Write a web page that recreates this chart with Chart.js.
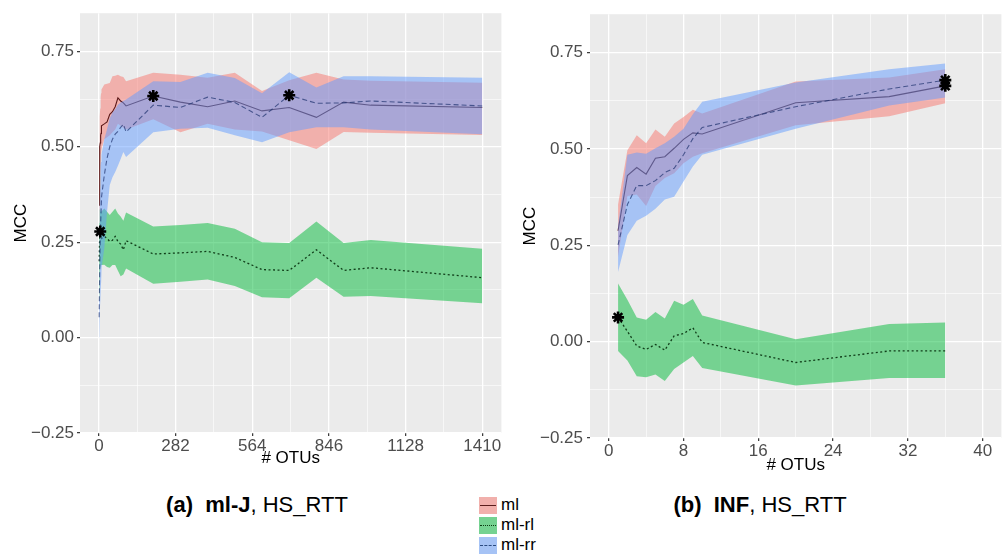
<!DOCTYPE html>
<html>
<head>
<meta charset="utf-8">
<script src="https://cdn.jsdelivr.net/npm/chart.js@4.4.1/dist/chart.umd.min.js"></script>
<style>
html, body { margin: 0; padding: 0; background: #fff; width: 1002px; height: 556px; overflow: hidden; }
body { position: relative; font-family: 'Liberation Sans', Arial, sans-serif; }
#wrapA { position: absolute; left: 0; top: 0; }
#wrapB { position: absolute; left: 515px; top: 0; }
.caption { position: absolute; top: 492px; font-size: 22px; color: #000; white-space: nowrap; transform: translateX(-50%); }
#legend { position: absolute; left: 479px; top: 495px; font-size: 17px; color: #000; }
.item { height: 20px; display: flex; align-items: center; }
.key { width: 18px; height: 17px; position: relative; margin-right: 4px; }
.key span { position: absolute; left: 1px; right: 1px; top: 8px; height: 0; border-top-width: 1.5px; }
</style>
</head>
<body>
<div id="wrapA"><canvas id="chartA" width="510" height="480"></canvas></div>
<div id="wrapB"><canvas id="chartB" width="495" height="480"></canvas></div>
<div class="caption" style="left:257px"><b>(a)</b>&nbsp; <b>ml-J</b>, HS_RTT</div>
<div class="caption" style="left:760px"><b>(b)</b>&nbsp; <b>INF</b>, HS_RTT</div>
<div id="legend">
  <div class="item"><div class="key" style="background:#F1B0AC"><span style="border-top-style:solid;border-top-color:#5a1c1c"></span></div>ml</div>
  <div class="item"><div class="key" style="background:#75D291"><span style="border-top-style:dotted;border-top-color:#0d3a12"></span></div>ml-rl</div>
  <div class="item"><div class="key" style="background:#A6C3F5"><span style="border-top-style:dashed;border-top-color:#2a4a80"></span></div>ml-rr</div>
</div>
<script>
// ---- panel (a): ml-J, HS_RTT ----
const xLeft = [1, 2, 3, 4, 5, 6, 7, 8, 9, 10, 20, 30, 40, 50, 60, 70, 80, 90, 100, 200, 300, 400, 500, 600, 700, 800, 900, 1000, 1410];
const mlLeft   = [0.347, 0.42, 0.47, 0.50, 0.51, 0.52, 0.53, 0.535, 0.545, 0.555, 0.56, 0.565, 0.585, 0.592, 0.605, 0.628, 0.62, 0.615, 0.607, 0.633, 0.617, 0.605, 0.62, 0.594, 0.603, 0.577, 0.617, 0.609, 0.603];
const mlLeftHi = [0.40, 0.48, 0.55, 0.58, 0.60, 0.62, 0.63, 0.64, 0.645, 0.65, 0.663, 0.665, 0.667, 0.685, 0.686, 0.689, 0.685, 0.683, 0.672, 0.694, 0.689, 0.681, 0.694, 0.646, 0.674, 0.694, 0.676, 0.673, 0.668];
const mlLeftLo = [0.30, 0.36, 0.40, 0.43, 0.45, 0.47, 0.48, 0.485, 0.49, 0.494, 0.52, 0.525, 0.53, 0.538, 0.545, 0.56, 0.555, 0.55, 0.545, 0.572, 0.538, 0.56, 0.545, 0.54, 0.517, 0.494, 0.539, 0.537, 0.531];
const rlLeft   = [0.20, 0.24, 0.26, 0.275, 0.278, 0.27, 0.268, 0.265, 0.262, 0.26, 0.265, 0.26, 0.252, 0.255, 0.265, 0.252, 0.245, 0.23, 0.254, 0.219, 0.222, 0.226, 0.21, 0.178, 0.176, 0.23, 0.176, 0.183, 0.157];
const rlLeftHi = [0.30, 0.32, 0.33, 0.335, 0.338, 0.335, 0.33, 0.33, 0.33, 0.33, 0.338, 0.33, 0.321, 0.33, 0.338, 0.325, 0.317, 0.306, 0.328, 0.291, 0.295, 0.30, 0.285, 0.25, 0.248, 0.304, 0.248, 0.256, 0.233];
const rlLeftLo = [0.10, 0.13, 0.16, 0.18, 0.19, 0.19, 0.19, 0.19, 0.19, 0.19, 0.191, 0.185, 0.183, 0.19, 0.19, 0.175, 0.161, 0.165, 0.181, 0.141, 0.146, 0.152, 0.135, 0.106, 0.103, 0.157, 0.107, 0.109, 0.09];
const rrLeft   = [0.053, 0.12, 0.18, 0.22, 0.26, 0.29, 0.31, 0.33, 0.35, 0.37, 0.426, 0.47, 0.50, 0.52, 0.533, 0.54, 0.551, 0.559, 0.539, 0.609, 0.603, 0.63, 0.616, 0.577, 0.635, 0.614, 0.615, 0.62, 0.607];
const rrLeftHi = [0.10, 0.20, 0.28, 0.34, 0.39, 0.43, 0.45, 0.46, 0.47, 0.48, 0.52, 0.546, 0.575, 0.59, 0.598, 0.61, 0.616, 0.62, 0.624, 0.672, 0.67, 0.694, 0.68, 0.64, 0.695, 0.655, 0.685, 0.685, 0.681];
const rrLeftLo = [0.0, 0.03, 0.06, 0.08, 0.10, 0.114, 0.13, 0.15, 0.165, 0.183, 0.235, 0.33, 0.40, 0.42, 0.434, 0.45, 0.468, 0.486, 0.473, 0.538, 0.547, 0.55, 0.53, 0.512, 0.538, 0.551, 0.551, 0.545, 0.533];

// ---- panel (b): INF, HS_RTT ----
const xRight = [1, 2, 3, 4, 5, 6, 7, 8, 9, 10, 20, 30, 36];
const mlRight   = [0.288, 0.431, 0.452, 0.435, 0.476, 0.48, 0.502, 0.525, 0.542, 0.539, 0.62, 0.636, 0.664];
const mlRightHi = [0.356, 0.497, 0.536, 0.515, 0.551, 0.532, 0.566, 0.583, 0.602, 0.592, 0.675, 0.686, 0.707];
const mlRightLo = [0.22, 0.378, 0.382, 0.352, 0.404, 0.425, 0.437, 0.463, 0.48, 0.489, 0.562, 0.585, 0.619];
const rlRight   = [0.063, 0.027, -0.011, -0.02, -0.007, -0.022, 0.015, 0.021, 0.036, -0.002, -0.054, -0.024, -0.024];
const rlRightHi = [0.151, 0.109, 0.063, 0.057, 0.077, 0.06, 0.106, 0.096, 0.111, 0.068, 0.006, 0.046, 0.05];
const rlRightLo = [-0.024, -0.049, -0.09, -0.092, -0.085, -0.102, -0.071, -0.054, -0.037, -0.068, -0.114, -0.094, -0.094];
const rrRight   = [0.251, 0.356, 0.405, 0.405, 0.418, 0.439, 0.45, 0.485, 0.527, 0.556, 0.61, 0.656, 0.679];
const rrRightHi = [0.30, 0.485, 0.491, 0.488, 0.502, 0.515, 0.532, 0.553, 0.59, 0.623, 0.673, 0.707, 0.722];
const rrRightLo = [0.181, 0.277, 0.314, 0.327, 0.345, 0.369, 0.376, 0.416, 0.455, 0.485, 0.553, 0.613, 0.634];

// ticks
const yMajor = [-0.25, 0, 0.25, 0.5, 0.75];
const yMinor = [-0.125, 0.125, 0.375, 0.625];
const yLabels = ['\u22120.25', '0.00', '0.25', '0.50', '0.75'];
const xLeftMajor = [0, 282, 564, 846, 1128, 1410];
const xLeftMinor = [141, 423, 705, 987, 1269];
const xLeftLabels = ['0', '282', '564', '846', '1128', '1410'];
const xRightMajor = [0, 8, 16, 24, 32, 40];
const xRightMinor = [4, 12, 20, 28, 36];
const xRightLabels = ['0', '8', '16', '24', '32', '40'];

const FONT = "'Liberation Sans', Arial, sans-serif";
const RED_FILL = 'rgba(248,118,109,0.5)';
const GREEN_FILL = 'rgba(0,186,56,0.5)';
const BLUE_FILL = 'rgba(97,156,255,0.5)';

function pts(xs, ys) {
    return xs.map((x, i) => ({ x: x, y: ys[i] }));
}

// index of the best value of a series, marked with a star
function best(xs, ys) {
    let k = 0;
    ys.forEach((v, i) => { if (v > ys[k]) k = i; });
    return { x: xs[k], y: ys[k] };
}

function ribbon(xs, lo, hi, color, order) {
    return [
        { data: pts(xs, hi), fill: '+1', backgroundColor: color, borderColor: 'rgba(0,0,0,0)', borderWidth: 1, pointRadius: 0, order: order },
        { data: pts(xs, lo), fill: false, borderColor: 'rgba(0,0,0,0)', borderWidth: 1, pointRadius: 0, order: order }
    ];
}

function meanLine(xs, ys, color, dash, width, order) {
    return { data: pts(xs, ys), fill: false, borderColor: color, borderWidth: width, borderDash: dash, pointRadius: 0, order: order };
}

function buildDatasets(xs, ml, mlHi, mlLo, rl, rlHi, rlLo, rr, rrHi, rrLo) {
    return [
        ...ribbon(xs, mlLo, mlHi, RED_FILL, 7),
        meanLine(xs, ml, 'rgb(92,24,24)', [], 1.1, 6),
        ...ribbon(xs, rlLo, rlHi, GREEN_FILL, 5),
        meanLine(xs, rl, 'rgba(5,45,12,0.9)', [2, 2.5], 1.3, 4),
        ...ribbon(xs, rrLo, rrHi, BLUE_FILL, 3),
        meanLine(xs, rr, 'rgba(30,50,110,0.7)', [5, 3], 1.1, 2),
        {
            data: [best(xs, ml), best(xs, rl), best(xs, rr)],
            showLine: false, pointStyle: 'star', pointRadius: 6, pointBorderWidth: 2.6,
            pointBorderColor: '#000', pointBackgroundColor: '#000', order: 0
        }
    ];
}

const panelBg = {
    id: 'panelBg',
    beforeDraw(chart) {
        const { ctx, chartArea: a } = chart;
        ctx.save();
        ctx.fillStyle = '#EBEBEB';
        ctx.fillRect(a.left, a.top, a.right - a.left, a.bottom - a.top);
        ctx.restore();
    }
};

function gridOpts(major) {
    return {
        color: '#ffffff',
        lineWidth: c => (c.tick && major.includes(c.tick.value)) ? 1.3 : 0.6,
        tickLength: 3,
        tickWidth: 1.2,
        tickColor: c => (c.tick && major.includes(c.tick.value)) ? '#333333' : 'rgba(0,0,0,0)'
    };
}

function scaleOpts(axis, min, max, major, minor, labels, size, tickPad, title, titlePad) {
    return {
        type: 'linear',
        min: min,
        max: max,
        afterBuildTicks: s => {
            s.ticks = major.concat(minor).sort((a, b) => a - b).map(v => ({ value: v }));
        },
        afterFit: s => {
            if (axis === 'x') s.height = size; else s.width = size;
        },
        border: { display: false },
        grid: gridOpts(major),
        ticks: {
            autoSkip: false,
            maxRotation: 0,
            padding: tickPad,
            color: '#4D4D4D',
            font: { family: FONT, size: 17 },
            callback: v => {
                const i = major.indexOf(v);
                return i < 0 ? '' : labels[i];
            }
        },
        title: {
            display: true,
            text: title,
            color: '#000',
            font: { family: FONT, size: 17 },
            padding: titlePad
        }
    };
}

function makeChart(id, datasets, xs, pad, yWidth, xHeight, xOpts) {
    return new Chart(document.getElementById(id), {
        type: 'line',
        data: { datasets: datasets },
        options: {
            responsive: false,
            animation: false,
            events: [],
            layout: { padding: pad },
            plugins: { legend: { display: false }, tooltip: { enabled: false } },
            scales: {
                x: scaleOpts('x', xOpts.min, xOpts.max, xOpts.major, xOpts.minor, xOpts.labels, xHeight, 0, '# OTUs', xOpts.titlePad),
                y: scaleOpts('y', -0.25, 0.85, yMajor, yMinor, yLabels, yWidth, xOpts.yTickPad, 'MCC', xOpts.yTitlePad)
            }
        },
        plugins: [panelBg]
    });
}

makeChart('chartA',
    buildDatasets(xLeft, mlLeft, mlLeftHi, mlLeftLo, rlLeft, rlLeftHi, rlLeftLo, rrLeft, rrLeftHi, rrLeftLo),
    xLeft, { top: 10, right: 7, left: 0, bottom: 0 }, 80, 47,
    { min: -69.45, max: 1480.45, major: xLeftMajor, minor: xLeftMinor, labels: xLeftLabels,
      titlePad: { top: 0, bottom: 11 }, yTickPad: 3, yTitlePad: { top: 11, bottom: 0 } });

makeChart('chartB',
    buildDatasets(xRight, mlRight, mlRightHi, mlRightLo, rlRight, rlRightHi, rlRightLo, rrRight, rrRightHi, rrRightLo),
    xRight, { top: 10, right: 3, left: 0, bottom: 0 }, 75, 42,
    { min: -2, max: 42, major: xRightMajor, minor: xRightMinor, labels: xRightLabels,
      titlePad: { top: 0, bottom: 4 }, yTickPad: 4, yTitlePad: { top: 5, bottom: 0 } });
</script>
</body>
</html>
